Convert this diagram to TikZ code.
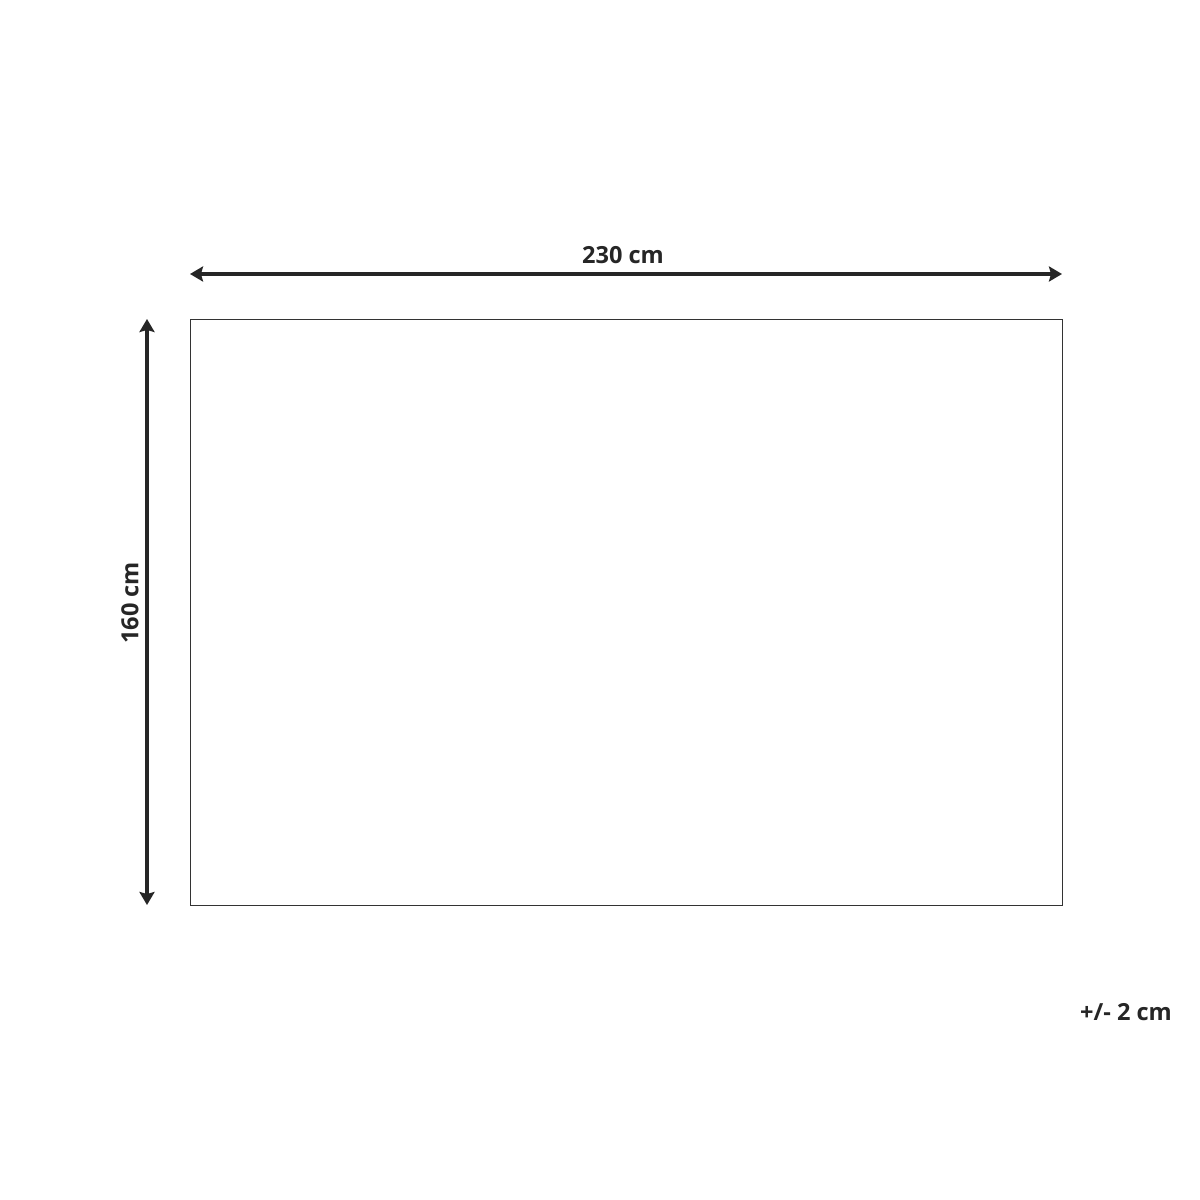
\documentclass[tikz,border=0pt]{standalone}
\usepackage{fontspec}
\setmainfont{Open Sans}
\usetikzlibrary{arrows.meta}
\begin{document}
\begin{tikzpicture}[x=0.01cm,y=-0.01cm,
  dim/.style={line width=1.15pt,color=black!85,{Stealth[length=13*0.01cm,width=15*0.01cm,inset=2*0.01cm]}-{Stealth[length=13*0.01cm,width=15*0.01cm,inset=2*0.01cm]}},
  lbl/.style={font=\bfseries\fontsize{6.7pt}{8pt}\selectfont,text=black!85,inner sep=0pt}]
\useasboundingbox (0,0) rectangle (1200,1200);
\fill[white] (0,0) rectangle (1200,1200);
\node[draw=black!80,line width=0.35pt,minimum width=872*0.01cm,minimum height=586*0.01cm,inner sep=0pt,anchor=north west] (rug) at (190,319) {};
\coordinate (hl) at (190,274);
\coordinate (hr) at (1062,274);
\coordinate (vt) at (147,319);
\coordinate (vb) at (147,905);
\draw[dim] (hl) -- (hr);
\draw[dim] (vt) -- (vb);
\node[lbl] (w) at (623,255) {230 cm};
\node[lbl,rotate=90] (h) at (130,603) {160 cm};
\node[lbl] (tol) at (1126,1012) {+/- 2 cm};
\end{tikzpicture}
\end{document}
